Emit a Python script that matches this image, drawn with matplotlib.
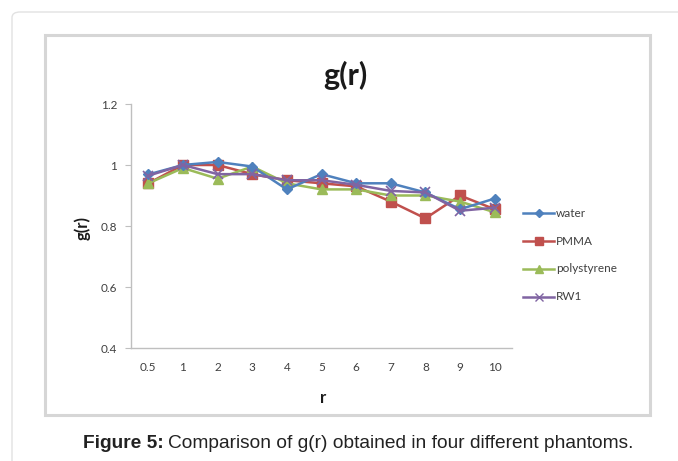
import matplotlib
matplotlib.use("Agg")
import matplotlib.pyplot as plt
from matplotlib.patches import Rectangle, FancyBboxPatch
from matplotlib.lines import Line2D

categories = ["0.5", "1", "2", "3", "4", "5", "6", "7", "8", "9", "10"]
water = [0.969, 1.0, 1.01, 0.995, 0.92, 0.97, 0.94, 0.94, 0.91, 0.855, 0.89]
pmma = [0.94, 1.0, 1.0, 0.97, 0.95, 0.94, 0.93, 0.88, 0.825, 0.90, 0.855]
polystyrene = [0.94, 0.99, 0.955, 0.995, 0.94, 0.92, 0.92, 0.90, 0.90, 0.88, 0.845]
rw1 = [0.965, 1.0, 0.97, 0.97, 0.95, 0.95, 0.935, 0.915, 0.91, 0.85, 0.86]
yticks = [0.4, 0.6, 0.8, 1.0, 1.2]
ytick_labels = ["0.4", "0.6", "0.8", "1", "1.2"]

W, H = 678, 461
fig = plt.figure(figsize=(W / 100, H / 100), dpi=100)
fig.patch.set_facecolor("white")

def fx(px):
    return px / W

def fy(py):
    return 1 - py / H

# outer rounded box
outer = FancyBboxPatch((fx(12), fy(470)), fx(700) - fx(12), fy(12) - fy(470),
                       boxstyle="round,pad=0,rounding_size=0.012",
                       transform=fig.transFigure, facecolor="none",
                       edgecolor="#e2e2e2", linewidth=1.0, zorder=-2)
fig.patches.append(outer)
# chart frame
frame = Rectangle((fx(45), fy(415)), fx(650) - fx(45), fy(35) - fy(415),
                  transform=fig.transFigure, facecolor="white",
                  edgecolor="#d6d6d6", linewidth=2.2, zorder=-1)
fig.patches.append(frame)

ax = fig.add_axes([fx(131), fy(348), fx(512) - fx(131), fy(104) - fy(348)])
ax.set_zorder(2)
ax.patch.set_alpha(0)
x = list(range(len(categories)))

ax.plot(x, water, color="#4F81BD", marker="D", markersize=5, linewidth=1.8, label="water", zorder=4)
ax.plot(x, pmma, color="#C0504D", marker="s", markersize=6.5, linewidth=1.8, label="PMMA", zorder=3)
ax.plot(x, polystyrene, color="#9BBB59", marker="^", markersize=6.5, linewidth=1.8, label="polystyrene", zorder=3)
ax.plot(x, rw1, color="#8064A2", marker="x", markersize=6.5, markeredgewidth=1.2, linewidth=1.8, label="RW1", zorder=5)

ax.set_xlim(-0.5, len(categories) - 0.5)
ax.set_ylim(0.4, 1.2)
ax.set_xticks(x)
ax.set_xticklabels(categories)
ax.set_yticks(yticks)
ax.set_yticklabels(ytick_labels)

for s in ["top", "right"]:
    ax.spines[s].set_visible(False)
for s in ["left", "bottom"]:
    ax.spines[s].set_color("#bfbfbf")
    ax.spines[s].set_linewidth(1.0)
ax.tick_params(axis="x", which="major", length=0, labelsize=8.5, labelcolor="#404040", pad=10)
ax.tick_params(axis="y", length=4, color="#bfbfbf", labelsize=8.5, labelcolor="#404040", pad=6)
for lab in ax.get_xticklabels() + ax.get_yticklabels():
    lab.set_family("Lato")

fig.text(fx(345), fy(75), "g(r)", ha="center", va="center", fontsize=22,
         fontweight="bold", family="Lato", color="#1a1a1a")
fig.text(fx(82), fy(228), "g(r)", ha="center", va="center", rotation=90,
         fontsize=12, fontweight="bold", family="Lato", color="#1a1a1a")
fig.text(fx(323), fy(398), "r", ha="center", va="center", fontsize=12,
         fontweight="bold", family="Lato", color="#1a1a1a")

# legend
leg_entries = [("water", "#4F81BD", "D", 4.5), ("PMMA", "#C0504D", "s", 6),
               ("polystyrene", "#9BBB59", "^", 6), ("RW1", "#8064A2", "x", 6)]
leg_y = [213, 241, 269, 297]
for (name, c, m, ms), yy in zip(leg_entries, leg_y):
    fig.add_artist(Line2D([fx(523), fx(554)], [fy(yy), fy(yy)], color=c, linewidth=1.8,
                          transform=fig.transFigure))
    fig.add_artist(Line2D([fx(538.5)], [fy(yy)], color=c, marker=m, markersize=ms,
                          transform=fig.transFigure))
    fig.text(fx(556), fy(yy), name, ha="left", va="center", fontsize=8.5,
             family="Lato", color="#404040")

# caption
renderer = fig.canvas.get_renderer()
t1 = fig.text(fx(83), fy(443), "Figure 5:", ha="left", va="center", fontsize=13.8,
              fontweight="bold", family="Liberation Sans", color="#222222")
bb = t1.get_window_extent(renderer=renderer)
fig.text(bb.x1 / W + fx(4), fy(443), "Comparison of g(r) obtained in four different phantoms.",
         ha="left", va="center", fontsize=13.8, family="Liberation Sans", color="#222222")

fig.savefig("out.png", dpi=100)
